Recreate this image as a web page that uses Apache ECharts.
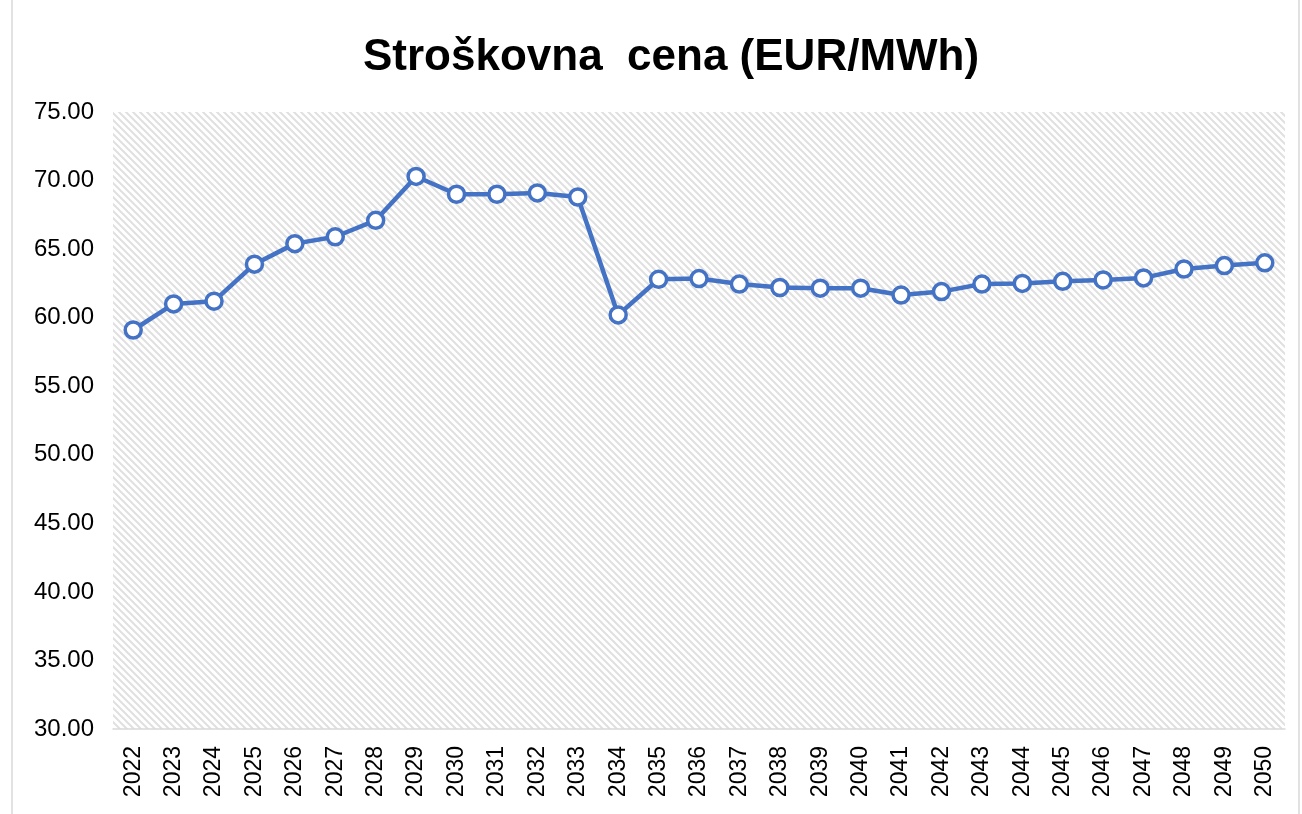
<!DOCTYPE html>
<html>
<head>
<meta charset="utf-8">
<script src="https://cdn.jsdelivr.net/npm/echarts@6/dist/echarts.min.js"></script>
<style>
  html, body { margin: 0; padding: 0; background: #fff; }
  #main { width: 1302px; height: 814px; }
</style>
</head>
<body>
<div id="main"></div>
<script>
// years on the x axis
const years = ['2022', '2023', '2024', '2025', '2026', '2027', '2028', '2029', '2030', '2031',
  '2032', '2033', '2034', '2035', '2036', '2037', '2038', '2039', '2040', '2041',
  '2042', '2043', '2044', '2045', '2046', '2047', '2048', '2049', '2050'];

// cost price, EUR/MWh
const costPrice = [59.1, 61.0, 61.2, 63.9, 65.4, 65.9, 67.1, 70.3, 69.0, 69.0,
  69.1, 68.8, 60.2, 62.8, 62.85, 62.45, 62.2, 62.15, 62.15, 61.65,
  61.9, 62.45, 62.5, 62.65, 62.75, 62.9, 63.55, 63.8, 64.0];

const yMin = 30, yMax = 75, yStep = 5;

// hatched background like excel "wide downward diagonal"
function hatch() {
  const c = document.createElement('canvas');
  c.width = 7; c.height = 7;
  const ctx = c.getContext('2d');
  ctx.fillStyle = '#ffffff';
  ctx.fillRect(0, 0, 7, 7);
  ctx.strokeStyle = '#e0e0e0';
  ctx.lineWidth = 2;
  ctx.beginPath();
  ctx.moveTo(-1, -1); ctx.lineTo(8, 8);
  ctx.moveTo(-8, -1); ctx.lineTo(1, 8);
  ctx.moveTo(6, -1); ctx.lineTo(15, 8);
  ctx.stroke();
  return c;
}

const chart = echarts.init(document.getElementById('main'));

chart.setOption({
  animation: false,
  textStyle: { fontFamily: 'Liberation Sans, Arial, sans-serif' },
  title: {
    text: 'Stroškovna  cena (EUR/MWh)',
    left: 358,
    top: 31,
    textStyle: { fontSize: 44, fontWeight: 'bold', color: '#000' }
  },
  // outer chart frame
  graphic: [{
    type: 'rect',
    shape: { x: 12, y: -5, width: 1287, height: 830 },
    style: { fill: 'none', stroke: '#d9d9d9', lineWidth: 1.5 },
    silent: true
  }],
  grid: {
    left: 113, right: 17, top: 112, bottom: 85,
    show: true,
    borderWidth: 0,
    backgroundColor: { image: hatch(), repeat: 'repeat' }
  },
  xAxis: {
    type: 'category',
    data: years,
    boundaryGap: true,
    axisLine: { lineStyle: { color: '#d9d9d9', width: 1.5 } },
    axisTick: { show: false },
    axisLabel: { rotate: 90, color: '#000', fontSize: 23, margin: 17 }
  },
  yAxis: {
    type: 'value',
    min: yMin, max: yMax, interval: yStep,
    axisLine: { show: false },
    axisTick: { show: false },
    splitLine: { show: false },
    axisLabel: {
      color: '#000', fontSize: 24, margin: 19,
      formatter: v => v.toFixed(2)
    }
  },
  series: [{
    type: 'line',
    data: costPrice,
    symbol: 'circle',
    symbolSize: 16,
    lineStyle: { color: '#4472C4', width: 4.5 },
    itemStyle: { color: '#fff', borderColor: '#4472C4', borderWidth: 3.5 }
  }]
});
</script>
</body>
</html>
